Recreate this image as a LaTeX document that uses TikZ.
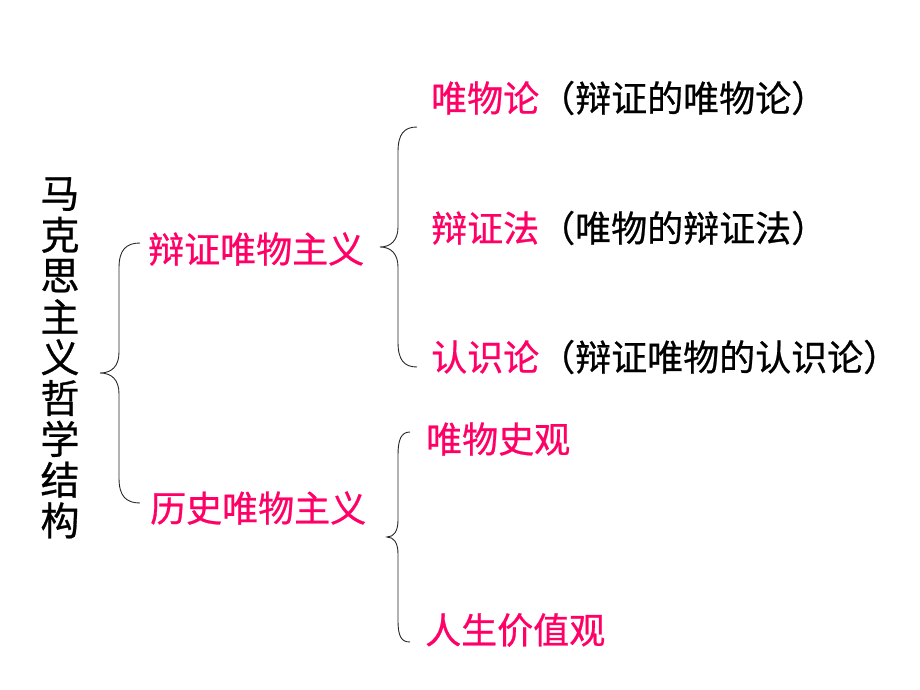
\documentclass[tikz,border=0pt]{standalone}
\usepackage{fontspec}
\setmainfont{Noto Sans CJK SC}[FakeBold=0.7]
\definecolor{pk}{RGB}{255,0,102}
\tikzset{
  lbl/.style={anchor=west, inner sep=0pt, font=\fontsize{36}{40}\selectfont},
  ttl/.style={inner sep=0pt, font=\fontsize{39}{42}\selectfont},
  brace/.style={draw=black!85, line width=0.9pt},
}
\begin{document}
\begin{tikzpicture}[x=1pt,y=-1pt]
\useasboundingbox (0,0) rectangle (920,690);
% title (vertical)
\foreach \c [count=\i] in {马,克,思,主,义,哲,学,结,构}
  \node[ttl] (t\i) at (60,{194+40.8*(\i-1)}) {\c};
% braces
\draw[brace] (140,243) .. controls (126,243) and (119,250) .. (119,268) -- (119,352)
  .. controls (119,366) and (112,373) .. (100,373)
  .. controls (112,373) and (119,380) .. (119,394) -- (119,478)
  .. controls (119,496) and (126,503) .. (140,503);
\draw[brace] (417,127) .. controls (404,127) and (398,134) .. (398,152) -- (398,227)
  .. controls (398,240) and (391,247) .. (380,247)
  .. controls (391,247) and (398,254) .. (398,267) -- (398,342)
  .. controls (398,360) and (404,367) .. (417,367);
\draw[brace] (410,432) .. controls (401,432) and (398,440) .. (398,455) -- (398,520)
  .. controls (398,531) and (394,537) .. (387,537)
  .. controls (394,537) and (398,543) .. (398,554) -- (398,620)
  .. controls (398,636) and (401,642) .. (410,642);
% middle level
\node[lbl, text=pk] (bz) at (148,249) {辩证唯物主义};
\node[lbl, text=pk] (ls) at (150,508) {历史唯物主义};
% right level
\node[lbl] (wwl) at (431,98) {\textcolor{pk}{唯物论}（辩证的唯物论）};
\node[lbl] (bzf) at (431,228) {\textcolor{pk}{辩证法}（唯物的辩证法）};
\node[lbl] (rsl) at (431,357) {\textcolor{pk}{认识论}（辩证唯物的认识论）};
\node[lbl, text=pk] (wwsg) at (426,439) {唯物史观};
\node[lbl, text=pk] (rsjz) at (425,630) {人生价值观};
\end{tikzpicture}
\end{document}
